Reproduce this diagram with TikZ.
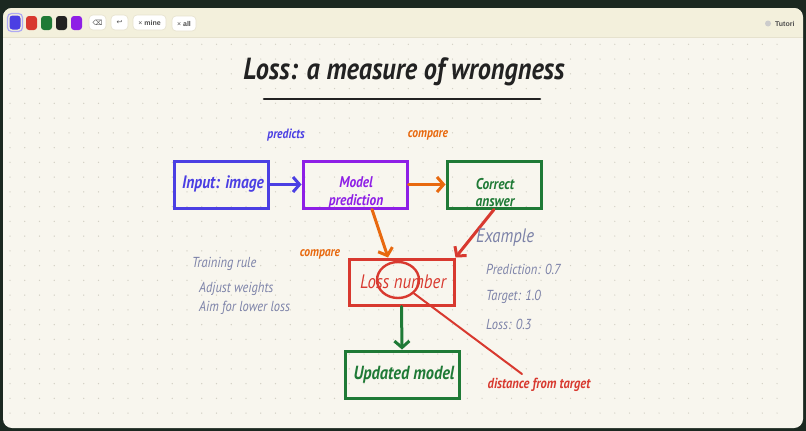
\documentclass[tikz,border=0pt]{standalone}
\usepackage{fontspec}
\setmainfont{PT Sans}
\newfontfamily\hand[FakeStretch=0.86]{PT Sans}
\newfontfamily\uisans{Liberation Sans}
\newfontfamily\symf{DejaVu Sans}
\usetikzlibrary{arrows.meta,shapes.geometric}
\definecolor{blueC}{HTML}{4B3FE3}
\definecolor{purpleC}{HTML}{8E1FE6}
\definecolor{greenC}{HTML}{1F7A36}
\definecolor{redC}{HTML}{D8392F}
\definecolor{orangeC}{HTML}{E8690F}
\definecolor{grayC}{HTML}{7C82A8}
\definecolor{inkC}{HTML}{222222}
\definecolor{canvasC}{HTML}{F8F6EE}
\definecolor{toolbarC}{HTML}{F3F0DC}
\definecolor{bgdarkC}{HTML}{1B2820}
\definecolor{dotC}{HTML}{D3D0C4}
\definecolor{sepC}{HTML}{E6E2CE}
\tikzset{
  box/.style={draw, line width=3pt, minimum width=#1, inner sep=0pt},
  boxtxt/.style={font=\hand\itshape\bfseries\fontsize{18}{20}\selectfont, align=center, inner sep=0pt},
  note/.style={font=\hand\itshape\fontsize{14.5}{16}\selectfont, inner sep=0pt},
  arr/.style={line width=3pt, line cap=round, -{Straight Barb[length=6.5pt,width=15pt]}},
  swatch/.style={rounded corners=3pt},
  btn/.style={draw=sepC, fill=white, rounded corners=4pt, line width=0.6pt},
  btntxt/.style={font=\uisans\fontsize{7}{8}\selectfont, text=inkC!80, inner sep=0pt}
}
\begin{document}
\begin{tikzpicture}[x=1pt,y=-1pt]
\useasboundingbox (0,0) rectangle (806,431);
\fill[bgdarkC] (0,0) rectangle (806,431);
\fill[canvasC, rounded corners=9pt] (3,8) rectangle (803,428);
\begin{scope}
\clip[rounded corners=9pt] (3,8) rectangle (803,428);
\fill[toolbarC] (3,8) rectangle (803,37);
\end{scope}
\draw[sepC, line width=0.8pt] (3,37.5) -- (803,37.5);
% dot grid
\foreach \i in {0,...,52} {
  \foreach \j in {0,...,25} {
    \fill[dotC] ({10+14.75*\i},{44.3+14.75*\j}) circle (0.7);
  }
}
% toolbar swatches
\draw[blueC!45, line width=1.2pt, rounded corners=4pt] (7.5,13.5) rectangle (22.5,31.5);
\fill[blueC, swatch] (9.5,15.5) rectangle (20.5,29.5);
\fill[redC, swatch] (26,16) rectangle (37,30);
\fill[greenC, swatch] (41,16) rectangle (52,30);
\fill[inkC, swatch] (56,16) rectangle (67,30);
\fill[purpleC, swatch] (71,16) rectangle (82,30);
% toolbar buttons
\draw[btn] (89,15) rectangle (106,30);
\node[btntxt, font=\symf\fontsize{7}{8}\selectfont] (b1) at (97.5,22.5) {⌫};
\draw[btn] (111,15) rectangle (128,30);
\node[btntxt, font=\symf\fontsize{7}{8}\selectfont] (b2) at (119.5,22.5) {↩};
\draw[btn] (133,15) rectangle (166,30);
\node[btntxt] (b3) at (149.5,22.5) {× \textbf{mine}};
\draw[btn] (172,16) rectangle (196,31);
\node[btntxt] (b4) at (184,23.5) {× \textbf{all}};
\fill[black!20] (768,23.5) circle (3);
\node[btntxt, anchor=west] (tut) at (775,23.5) {\textbf{Tutori}};
% title
\node[font=\hand\itshape\bfseries\fontsize{30.5}{33}\selectfont, text=inkC, inner sep=0pt] (title) at (404,72) {Loss: a measure of wrongness};
\draw[inkC, line width=2.6pt, line cap=round] (264,99) -- (540,99);
% boxes
\node[box=94pt, minimum height=47pt, draw=blueC] (input) at (221,184.5) {};
\node[box=104pt, minimum height=47pt, draw=purpleC] (model) at (355,184.5) {};
\node[box=94pt, minimum height=47pt, draw=greenC] (correct) at (494,184.5) {};
\node[box=105pt, minimum height=46pt, draw=redC] (loss) at (401.5,282) {};
\node[box=114pt, minimum height=47pt, draw=greenC] (updated) at (402,374.5) {};
% box texts
\node[boxtxt, text=blueC] (inputt) at (223,184) {Input: image};
\node[boxtxt, text=purpleC, font=\hand\itshape\bfseries\fontsize{15.5}{18}\selectfont] (modelt) at (356,193) {Model\\prediction};
\node[boxtxt, text=greenC, font=\hand\itshape\bfseries\fontsize{15.5}{17}\selectfont] (correctt) at (495,192.5) {Correct\\answer};
\node[boxtxt, text=redC, font=\hand\itshape\fontsize{19.5}{21}\selectfont] (losst) at (403,282) {Loss number};
\node[boxtxt, text=greenC, font=\hand\itshape\bfseries\fontsize{19}{21}\selectfont] (updatedt) at (404,375) {Updated model};
% arrows
\draw[arr, blueC] (input.east) -- (model.west);
\draw[arr, orangeC] (model.east) -- (correct.west);
\draw[arr, orangeC] ([xshift=17pt]model.south) -- ([xshift=-13.5pt]loss.north);
\draw[arr, redC] (correct.south) -- (loss.north east);
\draw[arr, greenC] (loss.south) -- (updated.north);
% highlight circle and pointer
\node[draw=redC, line width=2.4pt, ellipse, minimum width=42pt, minimum height=36pt, inner sep=0pt] (circ) at (398,280) {};
\coordinate (distend) at (522,374);
\draw[redC, line width=2pt, line cap=round] (circ.-40) -- (distend);
\node[note, text=redC, font=\hand\itshape\bfseries\fontsize{14.5}{16}\selectfont] (distt) at (539,385) {distance from target};
% labels
\node[note, text=blueC, font=\hand\itshape\bfseries\fontsize{13.5}{15}\selectfont] (predl) at (286,135) {predicts};
\node[note, text=orangeC, font=\hand\itshape\bfseries\fontsize{13.5}{15}\selectfont] (cmp1) at (428,135) {compare};
\node[note, text=orangeC, font=\hand\itshape\bfseries\fontsize{13.5}{15}\selectfont] (cmp2) at (320,254) {compare};
% training rule
\node[note, text=grayC, anchor=west] (tr) at (192,264) {Training rule};
\node[note, text=grayC, anchor=west] (aw) at (199,289) {Adjust weights};
\node[note, text=grayC, anchor=west] (al) at (199,308) {Aim for lower loss};
% example
\node[note, text=grayC, anchor=west, font=\hand\itshape\fontsize{19.5}{21}\selectfont] (ex) at (476,238) {Example};
\node[note, text=grayC, anchor=west] (ex1) at (486,269) {Prediction: 0.7};
\node[note, text=grayC, anchor=west] (ex2) at (486,297) {Target: 1.0};
\node[note, text=grayC, anchor=west] (ex3) at (486,324) {Loss: 0.3};
\end{tikzpicture}
\end{document}
